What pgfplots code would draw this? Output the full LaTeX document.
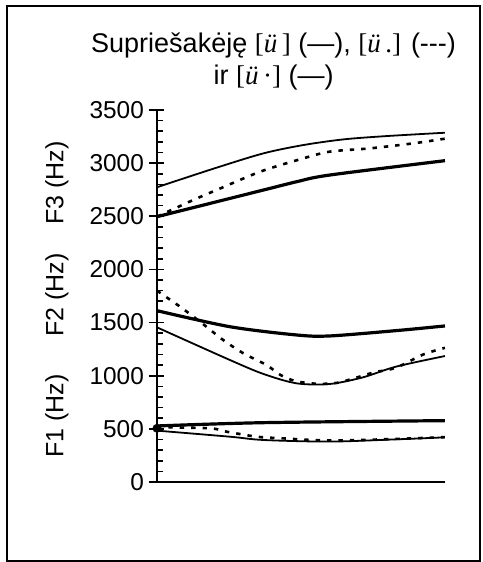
\documentclass[border=0pt]{standalone}
\usepackage{fontspec}
\setmainfont{Liberation Sans}
\newfontfamily\serif{Liberation Serif}
\usepackage{pgfplots}
\pgfplotsset{compat=1.18}

\begin{document}
\begin{tikzpicture}
\begin{axis}[
  scale only axis,
  width=144pt,height=186pt,
  xmin=0,xmax=10,ymin=0,ymax=3500,
  clip=false,
  axis x line=bottom,axis y line=left,
  axis line style={-,line width=1pt},
  xtick=\empty,
  ytick={0,500,...,3500},
  minor y tick num=4,
  tick align=inside,
  major tick length=7.5pt,
  minor tick length=3pt,
  every major tick/.append style={xshift=-4pt,line width=0.9pt,black},
  every minor tick/.append style={line width=0.8pt,black},
  /pgf/number format/assume math mode=true,
  /pgf/number format/1000 sep={},
  yticklabel style={font=\fontsize{12.2}{14}\selectfont,xshift=-3pt},
]
% F3
\addplot[black,line width=0.9pt,smooth] coordinates {
  (0,2773)(2,2951)(3.7,3092)(5.1,3171)(6.5,3224)(8,3255)(10,3286)};
\addplot[black,line width=1.3pt,dash pattern=on 2.2pt off 3.5pt,smooth] coordinates {
  (0,2496)(1.26,2653)(2.07,2747)(3.58,2919)(4.97,3036)(6,3108)(7.4,3139)(8.9,3186)(10,3230)};
\addplot[black,line width=1.6pt,smooth] coordinates {
  (0,2496)(3.7,2747)(4.85,2825)(6,2888)(10,3023)};
% F2
\addplot[black,line width=1.6pt,smooth] coordinates {
  (0,1612)(2.53,1461)(4.85,1383)(6,1374)(8.3,1424)(10,1468)};
\addplot[black,line width=0.9pt,smooth] coordinates {
  (0,1455)(2.53,1148)(3.7,1016)(4.85,928)(6,922)(7.16,985)(8.3,1085)(10,1185)};
\addplot[black,line width=1.3pt,dash pattern=on 2.2pt off 3.5pt,smooth] coordinates {
  (0,1800)(0.85,1640)(1.6,1486)(2.3,1336)(3,1211)(3.8,1101)(4.3,1005)(4.8,950)
  (5.5,925)(6.3,935)(7.5,1028)(8.3,1075)(9.25,1200)(10,1262)};
% F1
\addplot[black,line width=1.6pt,smooth] coordinates {
  (0,527)(3.7,558)(10,577)};
\addplot[black,line width=0.9pt,smooth] coordinates {
  (0,483)(2.53,426)(3.7,395)(6,380)(8.3,401)(10,420)};
\addplot[black,line width=1.3pt,dash pattern=on 2.2pt off 3.5pt,smooth] coordinates {
  (0,515)(1.84,505)(2.42,473)(3.46,426)(4.27,412)(6,390)(8.3,405)(10,422)};
\addplot[only marks,mark=*,mark size=2pt,black] coordinates {(0,505)};

% axis titles and heading
\node[rotate=90,font=\fontsize{12.5}{14}\selectfont] at (axis cs:-3.47,2813) {F3 (Hz)};
\node[rotate=90,font=\fontsize{12.5}{14}\selectfont] at (axis cs:-3.47,1760) {F2 (Hz)};
\node[rotate=90,font=\fontsize{12.5}{14}\selectfont] at (axis cs:-3.47,620) {F1 (Hz)};
\node[align=center,font=\fontsize{13.5}{16}\selectfont] at (axis cs:4.05,3961)
  {Supriešakėję {\serif[\textit{ü}\,]} (---), {\serif[\textit{ü}\,.]} (-{}-{}-)\\
   ir {\serif[\textit{ü}\,·]} (---)};
% outer frame
\draw[line width=1pt] (axis cs:-5.21,-743) rectangle (axis cs:11.22,4478);
\path (axis cs:-5.45,-753) rectangle (axis cs:11.32,4535);
\end{axis}
\end{tikzpicture}
\end{document}
